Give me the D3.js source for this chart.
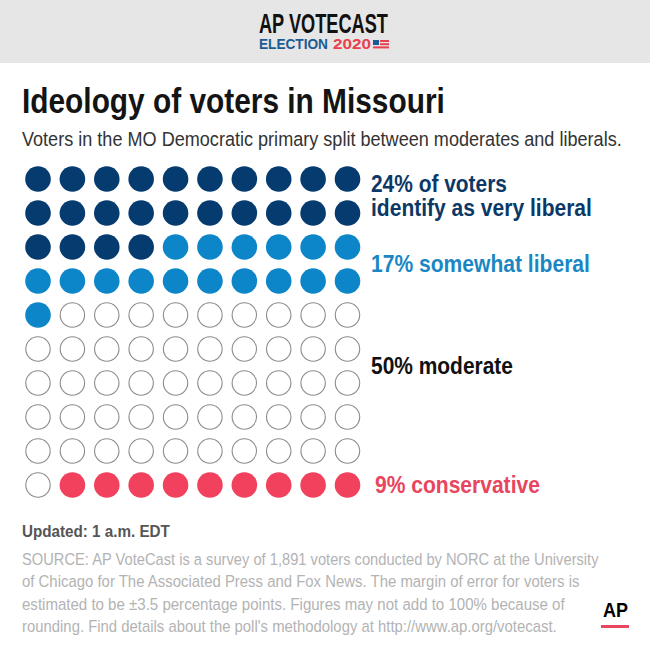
<!DOCTYPE html>
<html lang="en">
<head>
    <meta charset="UTF-8">
    <script src="https://d3js.org/d3.v7.min.js"></script>
    <title>Ideology of voters in Missouri</title>
    <style>
        body { margin: 0; background: #fff; }
        svg text { font-family: "Liberation Sans", Arial, sans-serif; }
    </style>
</head>
<body>
    <div id="chart"></div>

    <script type="text/javascript">
        const categories = ["very liberal", "somewhat liberal", "moderate", "conservative"];
        const percents = [24, 17, 50, 9];
        const labelLines = [
            ["24% of voters", "identify as very liberal"],
            ["17% somewhat liberal"],
            ["50% moderate"],
            ["9% conservative"]
        ];
        const sourceLines = [
            "SOURCE: AP VoteCast is a survey of 1,891 voters conducted by NORC at the University",
            "of Chicago for The Associated Press and Fox News. The margin of error for voters is",
            "estimated to be \u00b13.5 percentage points. Figures may not add to 100% because of",
            "rounding. Find details about the poll's methodology at http://www.ap.org/votecast."
        ];

        const width = 650;
        const height = 650;
        const nCols = 10;
        const fillColor = ["#053b6e", "#0d86c9", "#ffffff", "#f2415c"];
        const textColor = ["#0b3866", "#1a87c4", "#111111", "#e8455e"];
        // layout: row (grid units) each label sits on, and widths of the condensed type
        const labelRow = [0.5, 2.5, 5.5, 9];
        const labelWidths = [[136, 221], [219], [142], [165]];
        const sourceWidths = [577, 558, 543, 535];

        const svg = d3.select("#chart")
            .append("svg")
            .attr("width", width)
            .attr("height", height);

        // squeeze text horizontally to the narrow AP face
        function fit(sel, w) {
            sel.each(function (d, i) {
                const node = this;
                const target = typeof w === "function" ? w(d, i) : w;
                const len = node.getComputedTextLength();
                const x0 = +node.getAttribute("x");
                const k = target / len;
                d3.select(node).attr("transform", `translate(${x0},0) scale(${k},1) translate(${-x0},0)`);
            });
            return sel;
        }

        // header band
        svg.append("rect")
            .attr("width", width)
            .attr("height", 63)
            .attr("fill", "#e6e6e6");

        fit(svg.append("text")
            .attr("x", 259)
            .attr("y", 33)
            .style("font-size", "27px")
            .style("font-weight", "bold")
            .attr("fill", "#111")
            .text("AP VOTECAST"), 129);

        fit(svg.append("text")
            .attr("x", 259)
            .attr("y", 49.5)
            .style("font-size", "15px")
            .style("font-weight", "bold")
            .attr("fill", "#1b5b94")
            .text("ELECTION"), 69);

        fit(svg.append("text")
            .attr("x", 333)
            .attr("y", 49.5)
            .style("font-size", "15px")
            .style("font-weight", "bold")
            .attr("fill", "#e8414f")
            .text("2020"), 38);

        // little flag
        const flag = svg.append("g").attr("transform", "translate(373,40)");
        flag.append("rect").attr("width", 6).attr("height", 5).attr("fill", "#1b5b94");
        flag.append("rect").attr("x", 7).attr("y", 0).attr("width", 9).attr("height", 2).attr("fill", "#e8414f");
        flag.append("rect").attr("x", 7).attr("y", 3.2).attr("width", 9).attr("height", 2).attr("fill", "#e8414f");
        flag.append("rect").attr("x", 0).attr("y", 6.4).attr("width", 16).attr("height", 2).attr("fill", "#e8414f");

        // title block
        fit(svg.append("text")
            .attr("x", 22)
            .attr("y", 113)
            .style("font-size", "35px")
            .style("font-weight", "bold")
            .attr("fill", "#141414")
            .text("Ideology of voters in Missouri"), 423);

        fit(svg.append("text")
            .attr("x", 22)
            .attr("y", 146)
            .style("font-size", "19.5px")
            .attr("fill", "#333")
            .text("Voters in the MO Democratic primary split between moderates and liberals."), 600);

        // one dot per percent, filled row by row
        const dots = [];
        percents.forEach((p, c) => {
            for (let k = 0; k < p; k++) dots.push({ cat: c });
        });
        dots.forEach((d, i) => { d.col = i % nCols; d.row = Math.floor(i / nCols); });

        const nRows = Math.ceil(dots.length / nCols);
        const x = d3.scalePoint().domain(d3.range(nCols)).range([38, 347.5]);
        const y = d3.scalePoint().domain(d3.range(nRows)).range([179, 485]);
        const rowY = d3.scaleLinear().domain([0, nRows - 1]).range([179, 485]);

        svg.selectAll("circle.dot")
            .data(dots)
            .enter()
            .append("circle")
            .attr("class", "dot")
            .attr("cx", d => x(d.col))
            .attr("cy", d => y(d.row))
            .attr("r", d => d.cat === 2 ? 12.2 : 12.8)
            .attr("fill", d => fillColor[d.cat])
            .attr("stroke", d => d.cat === 2 ? "#8c8c8c" : "none")
            .attr("stroke-width", 1.1);

        // category labels
        const fs = 23;
        const lineH = 24;
        labelLines.forEach((lines, c) => {
            const cy = rowY(labelRow[c]);
            const top = cy - (lines.length - 1) * lineH / 2;
            const lx = c === 3 ? 375 : 371;
            lines.forEach((s, j) => {
                fit(svg.append("text")
                    .attr("x", lx)
                    .attr("y", top + j * lineH + fs * 0.36)
                    .style("font-size", fs + "px")
                    .style("font-weight", "bold")
                    .attr("fill", textColor[c])
                    .text(s), labelWidths[c][j]);
            });
        });

        // footer
        fit(svg.append("text")
            .attr("x", 22)
            .attr("y", 537)
            .style("font-size", "16.5px")
            .style("font-weight", "bold")
            .attr("fill", "#555")
            .text("Updated: 1 a.m. EDT"), 148);

        fit(svg.selectAll("text.source")
            .data(sourceLines)
            .enter()
            .append("text")
            .attr("class", "source")
            .attr("x", 22)
            .attr("y", (d, i) => 565 + i * 22.5)
            .style("font-size", "17px")
            .attr("fill", "#b3b3b3")
            .text(d => d), (d, i) => sourceWidths[i]);

        // AP logo
        fit(svg.append("text")
            .attr("x", 603)
            .attr("y", 617)
            .style("font-size", "21px")
            .style("font-weight", "bold")
            .attr("fill", "#000")
            .text("AP"), 25);
        svg.append("rect")
            .attr("x", 601)
            .attr("y", 625)
            .attr("width", 28)
            .attr("height", 3)
            .attr("fill", "#e8455e");
    </script>
</body>
</html>
